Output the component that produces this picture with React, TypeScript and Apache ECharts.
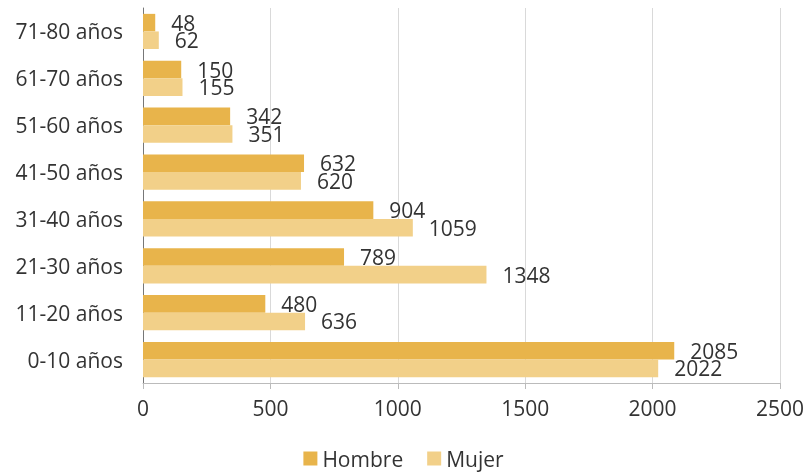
import React, { useEffect, useRef } from "react";
import * as echarts from "echarts";

const categories = ["0-10 años", "11-20 años", "21-30 años", "31-40 años", "41-50 años", "51-60 años", "61-70 años", "71-80 años"];
const hombre = [2085, 480, 789, 904, 632, 342, 150, 48];
const mujer = [2022, 636, 1348, 1059, 620, 351, 155, 62];
const seriesNames = ["Hombre", "Mujer"];

const FONT = "'Open Sans', 'DejaVu Sans', sans-serif";

export default function App() {
  const ref = useRef<HTMLDivElement>(null);
  useEffect(() => {
    const chart = echarts.init(ref.current!, null, { renderer: "svg" });
    const label = {
      show: true,
      position: "right",
      distance: 16,
      color: "#333",
      fontSize: 21,
      fontFamily: FONT,
    };
    chart.setOption({
      animation: false,
      textStyle: { fontFamily: FONT },
      grid: { left: 143, right: 26, top: 8, bottom: 93 },
      legend: {
        bottom: 2,
        left: "center",
        itemWidth: 14,
        itemHeight: 14,
        icon: "rect",
        itemGap: 24,
        textStyle: { fontSize: 21, color: "#333", fontFamily: FONT },
        data: seriesNames,
      },
      xAxis: {
        type: "value",
        min: 0,
        max: 2500,
        interval: 500,
        axisLine: { show: true, lineStyle: { color: "#bbb" } },
        axisTick: { show: true, length: 6, lineStyle: { color: "#bbb" } },
        axisLabel: { fontSize: 21, color: "#333", margin: 14, fontFamily: FONT, formatter: (v: number) => String(v) },
        splitLine: { show: true, lineStyle: { color: "#d9d9d9" } },
      },
      yAxis: {
        type: "category",
        data: categories,
        axisLine: { show: true, lineStyle: { color: "#777" } },
        axisTick: { show: false },
        axisLabel: { fontSize: 21, color: "#333", margin: 20, fontFamily: FONT },
      },
      series: [
        {
          name: seriesNames[0],
          type: "bar",
          data: hombre,
          itemStyle: { color: "#E8B44B" },
          barGap: "0%",
          barCategoryGap: "25%",
          label,
        },
        {
          name: seriesNames[1],
          type: "bar",
          data: mujer,
          itemStyle: { color: "#F2D089" },
          label,
        },
      ],
    });
    return () => chart.dispose();
  }, []);
  return <div ref={ref} style={{ position: "fixed", left: 0, top: 0, width: 807, height: 476 }} />;
}
